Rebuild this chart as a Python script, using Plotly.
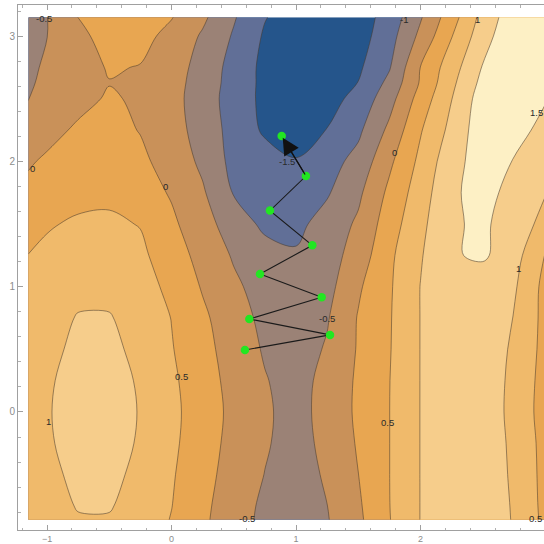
import plotly.graph_objects as go

# ---- grid of surface values ----
x_vals = [-1.15, -1.0, -0.75, -0.5, -0.25, 0.0, 0.25, 0.5, 0.75, 1.0,
          1.25, 1.5, 1.75, 2.0, 2.25, 2.5, 2.75, 3.0]
y_vals = [-0.86, -0.75, -0.5, -0.25, 0.0, 0.25, 0.5, 0.75, 1.0, 1.25,
          1.5, 1.75, 2.0, 2.25, 2.5, 2.625, 2.75, 3.0, 3.15]

z_grid = [
    [0.59, 0.755, 0.96, 0.963, 0.766, 0.478, 0.085, -0.28, -0.62, -0.83, -0.53, -0.10, 0.48, 1.01, 1.185, 1.175, 0.98, 0.38],
    [0.63, 0.80, 1.03, 1.033, 0.813, 0.51, 0.105, -0.256, -0.6, -0.8, -0.505, -0.07, 0.49, 1.01, 1.18, 1.17, 0.975, 0.36],
    [0.70, 0.889, 1.101, 1.104, 0.899, 0.55, 0.16, -0.194, -0.51, -0.74, -0.43, -0.005, 0.495, 1.01, 1.17, 1.16, 0.96, 0.34],
    [0.745, 0.948, 1.157, 1.16, 0.958, 0.6, 0.21, -0.147, -0.45, -0.7, -0.36, 0.045, 0.495, 1.01, 1.16, 1.15, 0.95, 0.32],
    [0.76, 0.967, 1.174, 1.177, 0.978, 0.62, 0.244, -0.12, -0.43, -0.68, -0.32, 0.08, 0.495, 1.01, 1.16, 1.15, 0.93, 0.26],
    [0.74, 0.945, 1.155, 1.157, 0.955, 0.59, 0.205, -0.153, -0.47, -0.7, -0.34, 0.07, 0.49, 1.01, 1.16, 1.15, 0.94, 0.29],
    [0.69, 0.88, 1.10, 1.10, 0.89, 0.53, 0.15, -0.21, -0.55, -0.74, -0.45, 0.04, 0.47, 1.01, 1.17, 1.16, 0.96, 0.34],
    [0.63, 0.80, 1.03, 1.03, 0.81, 0.49, 0.09, -0.29, -0.62, -0.8, -0.54, 0.03, 0.46, 1.01, 1.17, 1.17, 0.99, 0.36],
    [0.56, 0.69, 0.86, 0.87, 0.70, 0.38, -0.04, -0.41, -0.7, -0.88, -0.66, -0.07, 0.44, 1.01, 1.2, 1.18, 1.07, 0.36],
    [0.505, 0.59, 0.7, 0.71, 0.6, 0.23, -0.16, -0.55, -0.82, -0.95, -0.72, -0.28, 0.4, 0.96, 1.45, 1.58, 1.2, 0.47],
    [0.38, 0.46, 0.56, 0.58, 0.48, 0.09, -0.3, -0.75, -1.1, -1.12, -0.81, -0.42, 0.26, 0.88, 1.43, 1.6, 1.22, 0.88],
    [0.14, 0.24, 0.37, 0.4, 0.22, -0.045, -0.44, -1.03, -1.25, -1.38, -1.05, -0.6, 0.11, 0.76, 1.42, 1.68, 1.33, 1.02],
    [-0.06, 0.08, 0.22, 0.27, 0.1, -0.2, -0.6, -1.15, -1.3, -1.48, -1.2, -0.84, -0.1, 0.62, 1.33, 1.72, 1.48, 1.14],
    [-0.33, -0.17, 0.08, 0.15, -0.02, -0.32, -0.68, -1.19, -1.57, -1.65, -1.49, -1.1, -0.39, 0.46, 1.14, 1.8, 1.65, 1.38],
    [-0.51, -0.38, -0.16, 0.06, -0.08, -0.33, -0.75, -1.22, -1.62, -1.75, -1.68, -1.35, -0.69, 0.21, 0.99, 1.75, 1.85, 1.53],
    [-0.54, -0.43, -0.19, -0.015, -0.09, -0.32, -0.71, -1.2, -1.62, -1.78, -1.77, -1.49, -0.87, 0.05, 0.89, 1.64, 1.8, 1.7],
    [-0.57, -0.45, -0.21, 0.04, -0.02, -0.3, -0.66, -1.19, -1.62, -1.8, -1.85, -1.58, -1.04, 0.01, 0.78, 1.53, 1.75, 1.85],
    [-0.61, -0.505, -0.13, 0.2, 0.15, -0.14, -0.56, -1.05, -1.56, -1.78, -1.88, -1.72, -1.2, -0.38, 0.48, 1.29, 1.9, 1.9],
    [-0.63, -0.51, 0.005, 0.224, 0.21, 0.022, -0.404, -0.954, -1.476, -1.744, -1.862, -1.72, -1.32, -0.548, 0.288, 1.164, 1.81, 1.87],
]

level_start = -1.5
level_end = 1.5
level_step = 0.5
band_colors = ["#25558b", "#616f97", "#9b8276", "#c99159",
               "#e8a651", "#f0ba6b", "#f6cd8b", "#fdf0c5"]

# ---- gradient-descent path ----
path_x = [0.590, 1.273, 0.625, 1.206, 0.711, 1.131, 0.791, 1.080, 0.885]
path_y = [0.495, 0.615, 0.742, 0.915, 1.101, 1.330, 1.607, 1.883, 2.203]

# ---- contour labels ----
label_text = ["-0.5", "-1", "1", "0", "0", "-1.5", "0", "1.5", "1",
              "-0.5", "0.5", "1", "0.5", "-0.5", "0.5"]
label_x = [-1.024, 1.867, 2.454, -1.12, -0.052, 0.928, 1.795, 2.93, 2.791,
           1.246, 0.079, -0.992, 1.731, 0.604, 2.922]
label_y = [3.14, 3.13, 3.13, 1.94, 1.80, 2.0, 2.067, 2.394, 1.149,
           0.748, 0.282, -0.077, -0.082, -0.848, -0.848]

x_ticks = [-1, 0, 1, 2]
y_ticks = [0, 1, 2, 3]
x_range = [-1.233, 2.992]
y_range = [-0.942, 3.248]

n = len(band_colors)
colorscale = [[k / (n - 1), c] for k, c in enumerate(band_colors)]

fig = go.Figure()
fig.add_trace(go.Contour(
    x=x_vals, y=y_vals, z=z_grid,
    autocontour=False,
    contours=dict(start=level_start, end=level_end, size=level_step,
                  coloring="fill", showlabels=False),
    colorscale=colorscale,
    line=dict(color="rgba(70,58,45,0.6)", width=0.9, smoothing=1.0),
    showscale=False, hoverinfo="skip",
))
fig.add_trace(go.Scatter(
    x=path_x, y=path_y, mode="lines",
    line=dict(color="#1a1a1a", width=1.1),
    hoverinfo="skip", showlegend=False,
))
fig.add_trace(go.Scatter(
    x=path_x, y=path_y, mode="markers",
    marker=dict(color="#22e622", size=8.5, line=dict(width=0)),
    hoverinfo="skip", showlegend=False,
))

for t, lx, ly in zip(label_text, label_x, label_y):
    fig.add_annotation(x=lx, y=ly, text=t, showarrow=False, xref="x", yref="y",
                       font=dict(family="Liberation Sans", size=9.5, color="#2a2a2a"))

fig.add_annotation(x=path_x[-1], y=path_y[-1], ax=path_x[-2], ay=path_y[-2],
                   xref="x", yref="y", axref="x", ayref="y", text="",
                   showarrow=True, arrowhead=2, arrowsize=2.6, arrowwidth=1.3,
                   arrowcolor="#111111", standoff=2)

axis_common = dict(
    showgrid=False, zeroline=False, showline=True, linecolor="#a0a0a0", linewidth=1,
    ticks="inside", ticklen=5, tickcolor="#a0a0a0",
    minor=dict(dtick=0.2, ticks="inside", ticklen=2.5, tickcolor="#b0b0b0"),
    automargin=False,
)
fig.update_xaxes(range=x_range, tickvals=x_ticks, mirror="ticks",
                 tickfont=dict(family="Liberation Sans", size=9, color="#8c8c8c"),
                 **axis_common)
fig.update_yaxes(range=y_range, tickvals=y_ticks, mirror=False,
                 tickfont=dict(family="Liberation Sans", size=10, color="#8c8c8c"),
                 **axis_common)

fig.update_layout(
    width=544, height=544,
    margin=dict(l=18, r=0, t=5, b=14),
    plot_bgcolor="white", paper_bgcolor="white",
    showlegend=False,
)

fig.write_html("out.html", config={"displayModeBar": False},
               post_script="document.body.style.margin='0';document.body.style.overflow='hidden';")
